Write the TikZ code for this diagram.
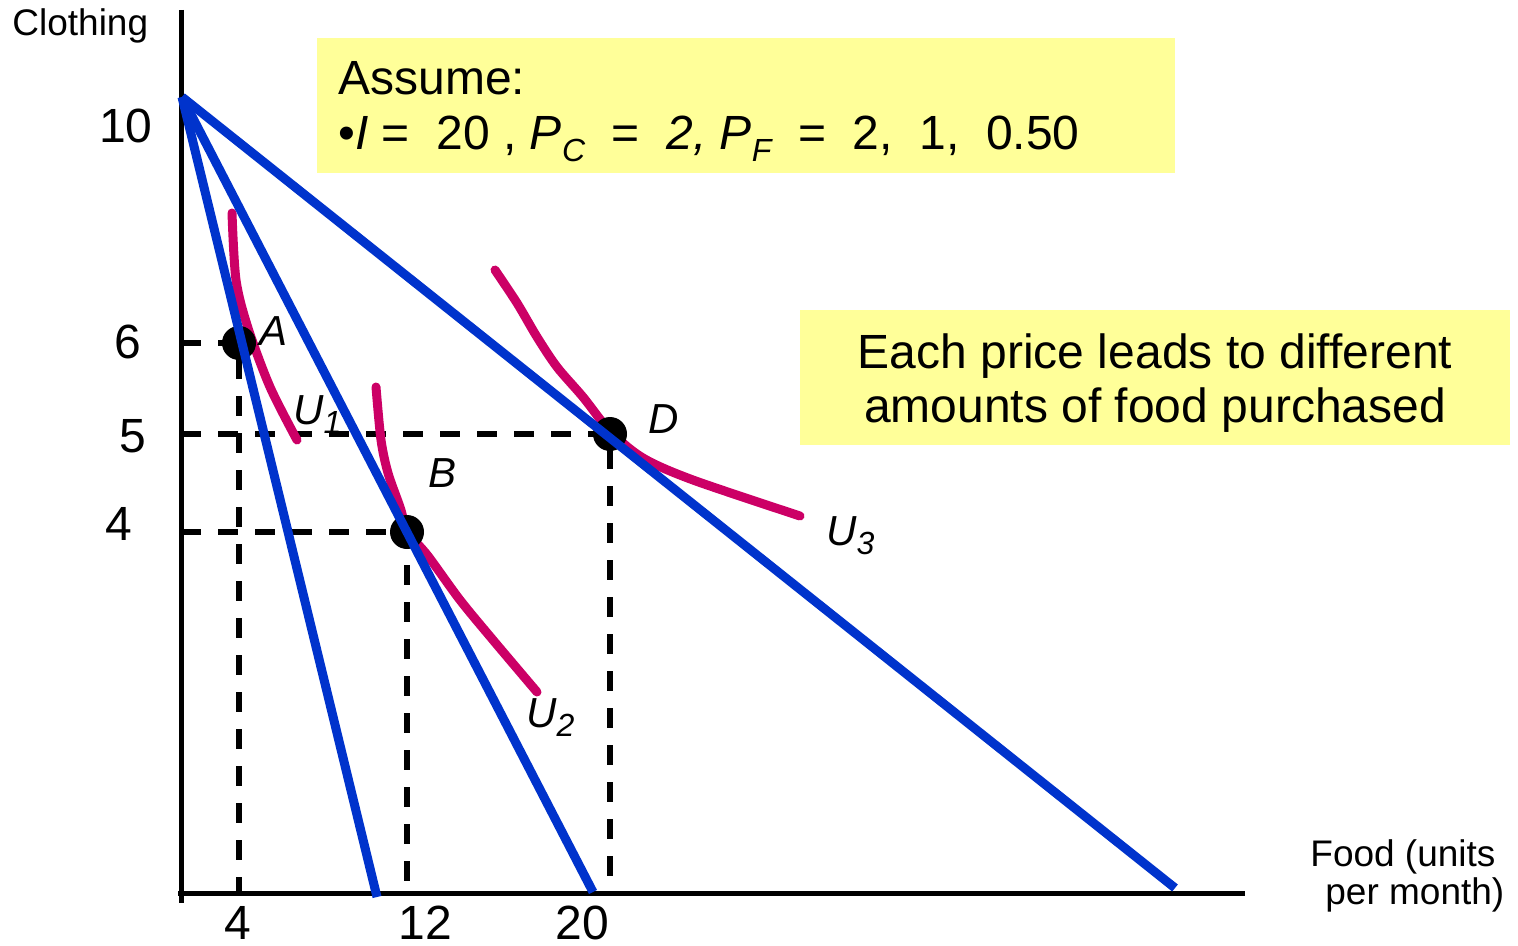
\documentclass[tikz,border=0pt]{standalone}
\usepackage{fontspec}
\setmainfont{Liberation Sans}
\definecolor{lineblue}{RGB}{0,51,204}
\definecolor{curvered}{RGB}{204,0,102}
\definecolor{noteyellow}{RGB}{255,255,153}
\newcommand{\lowsub}[1]{\raisebox{-0.45ex}{\fontsize{16}{16}\selectfont\itshape #1}}
\tikzset{
  budget/.style={lineblue,line width=4.5pt},
  indiff/.style={curvered,line width=4.5pt,line cap=round},
  guide/.style={line width=2.6pt,dash pattern=on 10pt off 8.5pt},
  bundle/.style={circle,fill=black,inner sep=0pt,minimum size=17pt},
  ticklabel/.style={inner sep=0pt,font=\fontsize{24}{24}\selectfont},
  curvelabel/.style={inner sep=0pt,anchor=base west,font=\fontsize{21}{21}\selectfont\itshape},
}
\begin{document}
\begin{tikzpicture}[x=0.5pt,y=-0.5pt]
   \useasboundingbox (0,0) rectangle (1518,946);
   %notes
   \fill[noteyellow] (317,38) rectangle (1175,173);
   \fill[noteyellow] (800,310) rectangle (1510,445);
   \node[anchor=base west,ticklabel] (assume) at (338,95) {Assume:};
   \node[anchor=base west,ticklabel] (prices) at (338,150)
     {{•}\textit{I} = \ 20 , \textit{P}\lowsub{C} \ = \ \textit{2,} \textit{P}\lowsub{F} \ = \ 2,\ \ 1,\ \ 0.50};
   \node[anchor=base,ticklabel] (note1) at (1155,368) {Each price leads to different};
   \node[anchor=base,ticklabel] (note2) at (1155,422) {amounts of food purchased};
   %axis
   \coordinate (O) at (181,893);
   \draw[line width=2.5pt] (181,10) -- (181,903);
   \draw[line width=2.5pt] (178,893) -- (1245,893);
   \node[anchor=base west,inner sep=0pt,font=\fontsize{18.5}{18.5}\selectfont] (ylab) at (12,36) {Clothing};
   \node[anchor=base west,inner sep=0pt,font=\fontsize{18.5}{18.5}\selectfont] (xlab1) at (1310,866) {Food (units};
   \node[anchor=base west,inner sep=0pt,font=\fontsize{18.5}{18.5}\selectfont] (xlab2) at (1325,904) {per month)};
   %ticks
   \node[anchor=base east,ticklabel] (y10) at (153,143) {10};
   \node[anchor=base east,ticklabel] (y6) at (142,358) {6};
   \node[anchor=base east,ticklabel] (y5) at (147,452) {5};
   \node[anchor=base east,ticklabel] (y4) at (133,540) {4};
   \node[anchor=base,ticklabel] (x4) at (238,939) {4};
   \node[anchor=base,ticklabel] (x12) at (425,939) {12};
   \node[anchor=base,ticklabel] (x20) at (582,939) {20};
   %bundles
   \coordinate (a) at (239,343);
   \coordinate (b) at (407,532);
   \coordinate (d) at (610,434);
   \draw[guide] (a -| O) -- (a) -- (a |- O);
   \draw[guide] (b -| O) -- (b) -- (b |- O);
   \draw[guide] (d -| O) -- (d) -- (d |- O);
   %indifference curves
   \draw[indiff] plot[smooth] coordinates {(232,213) (236,280) (248,328) (270,387) (297,440)};
   \draw[indiff] plot[smooth] coordinates {(376,387) (381,440) (388,473) (400,507) (408,532) (428,556) (460,600) (493,640) (537,692)};
   \draw[indiff] plot[smooth] coordinates {(495,270) (517,303) (537,337) (557,367) (583,397) (610,431) (643,458) (693,480) (800,516)};
   \node[bundle] (A) at (a) {};
   \node[bundle] (B) at (b) {};
   \node[bundle] (D) at (d) {};
   %budget lines
   \coordinate (top) at (182,97);
   \draw[budget] (top) -- (377,897);
   \draw[budget] (top) -- (593,892);
   \draw[budget] (top) -- (1175,888);
   %labels
   \node[curvelabel] (labA) at (259,345) {A};
   \node[curvelabel] (labB) at (428,487) {B};
   \node[curvelabel] (labD) at (648,433) {D};
   \node[curvelabel] (labU1) at (293,424) {U\lowsub{1}};
   \node[curvelabel] (labU2) at (526,727) {U\lowsub{2}};
   \node[curvelabel] (labU3) at (826,545) {U\lowsub{3}};
\end{tikzpicture}
\end{document}
